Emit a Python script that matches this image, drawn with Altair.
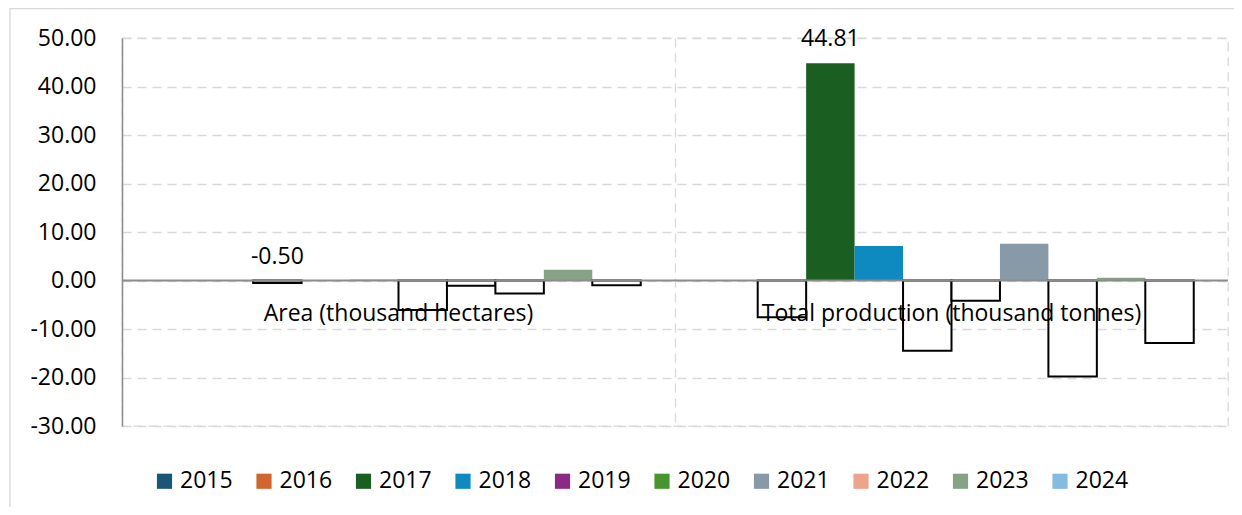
import altair as alt
import pandas as pd

categories = ["Area (thousand hectares)", "Total production (thousand tonnes)"]
years = ["2015", "2016", "2017", "2018", "2019", "2020", "2021", "2022", "2023", "2024"]
area_values = [0.0, 0.0, -0.50, 0.0, 0.15, -6.1, -1.1, -2.7, 2.2, -1.0]
production_values = [0.0, -7.6, 44.81, 7.1, -14.5, -4.2, 7.6, -19.8, 0.55, -12.9]
year_colors = ["#1A5676", "#D0652E", "#1A5E22", "#0E8AC0", "#8C2A83",
               "#47952F", "#8899A8", "#EDA48B", "#88A287", "#85BBE0"]
labelled_year = "2017"
y_ticks = [-30, -20, -10, 0, 10, 20, 30, 40, 50]

rows = []
for cat, vals in zip(categories, [area_values, production_values]):
    for yr, v in zip(years, vals):
        rows.append({"category": cat, "year": yr, "value": v})
df = pd.DataFrame(rows)
cat_df = pd.DataFrame({"category": categories})

FONT = "Open Sans"
GRID = "#D9D9D9"

x_enc = alt.X("category:N", sort=categories,
              scale=alt.Scale(paddingInner=0, paddingOuter=0),
              axis=alt.Axis(labels=False, ticks=False, domain=False, title=None,
                            grid=True, bandPosition=0, gridColor=GRID,
                            gridDash=[9, 6], gridWidth=1.3))
xoff_enc = alt.XOffset("year:N", sort=years,
                       scale=alt.Scale(domain=years, paddingOuter=0.707, paddingInner=0))
y_scale = alt.Scale(domain=[-30, 50], nice=False, zero=False)
y_axis = alt.Axis(values=y_ticks, labelExpr="replace(format(datum.value, '.2f'), '\u2212', '-')",
                  labelFontSize=23, labelFont=FONT,
                  labelColor="black", labelPadding=26, ticks=False,
                  domainColor="#8C8C8C", domainWidth=1.5, gridColor=GRID,
                  gridDash=[9, 6], gridWidth=1.3, title=None)

frame = alt.Chart(cat_df.head(1)).mark_rect(
    fillOpacity=0, stroke=GRID, strokeWidth=1.3
).encode(x=alt.value(-112), x2=alt.value(1400), y=alt.value(-29.5), y2=alt.value(700))

bars = alt.Chart(df).mark_bar(strokeWidth=2).encode(
    x=x_enc,
    xOffset=xoff_enc,
    y=alt.Y("value:Q", scale=y_scale, axis=y_axis),
    fill=alt.condition(
        alt.datum.value < 0,
        alt.value("white"),
        alt.Fill("year:N", sort=years,
                 scale=alt.Scale(domain=years, range=year_colors),
                 legend=alt.Legend(orient="none", legendX=31, legendY=431.5,
                                   direction="horizontal", columns=10, title=None,
                                   labelFontSize=23, labelFont=FONT, labelColor="black",
                                   symbolType="square", symbolSize=230,
                                   symbolStrokeWidth=0, labelOffset=4,
                                   columnPadding=19.5, padding=0)),
    ),
    stroke=alt.condition(alt.datum.value < 0, alt.value("black"), alt.value("transparent")),
)

zero_line = alt.Chart(cat_df.head(1)).mark_rule(color="#8C8C8C", strokeWidth=2.2).encode(
    y=alt.datum(0)
)

value_labels = alt.Chart(df).transform_filter(
    alt.datum.year == labelled_year
).transform_calculate(
    ly="max(datum.value, 0)",
    lbl="replace(format(datum.value, '.2f'), '\u2212', '-')",
).mark_text(fontSize=23, font=FONT, color="black", baseline="middle", dy=-24).encode(
    x=x_enc,
    xOffset=xoff_enc,
    y=alt.Y("ly:Q", scale=y_scale, axis=y_axis),
    text="lbl:N",
)

cat_labels = alt.Chart(cat_df).mark_text(
    fontSize=23, font=FONT, color="black", baseline="middle", dy=33
).encode(
    x=x_enc,
    y=alt.datum(0),
    text="category:N",
)

chart = alt.layer(frame, bars, zero_line, value_labels, cat_labels).properties(
    width=1106, height=388,
    autosize=alt.AutoSizeParams(type="none"),
    padding={"left": 114, "top": 30, "right": 6, "bottom": 81},
).configure_view(stroke=GRID, strokeDash=[9, 6], strokeWidth=1.3)

chart.save("out.html", embed_options={"renderer": "svg", "actions": False})
